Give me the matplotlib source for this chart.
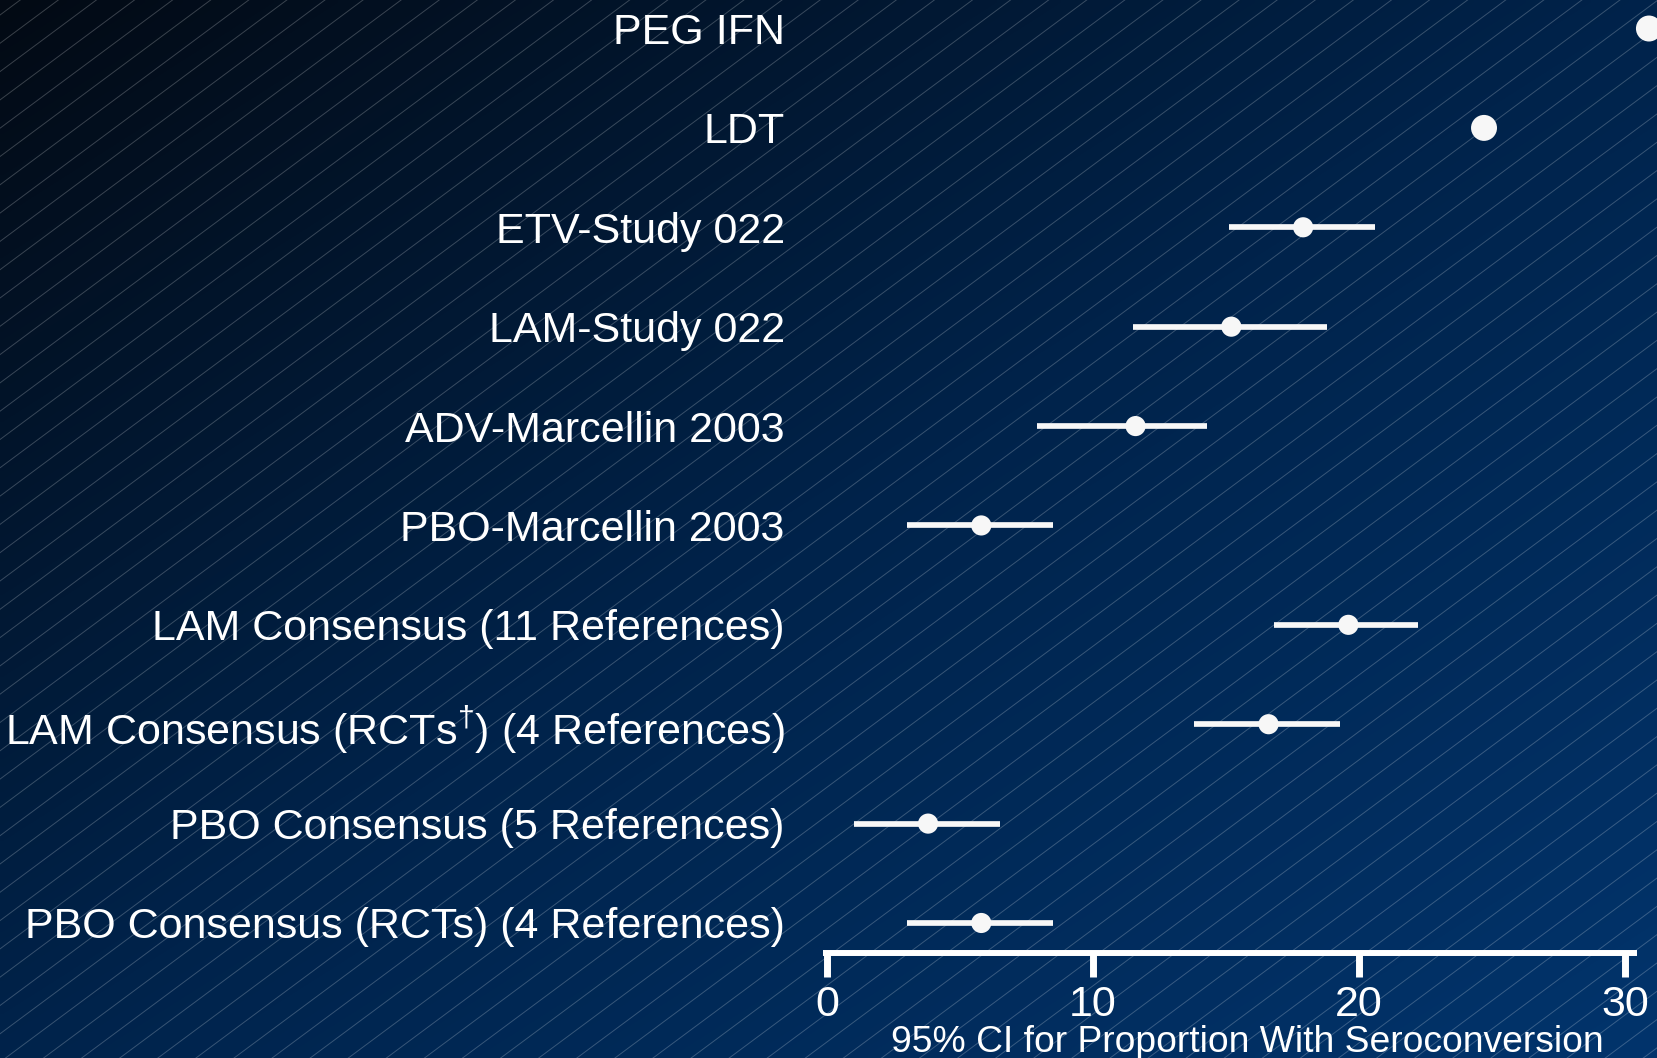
import numpy as np
import matplotlib
matplotlib.use("Agg")
import matplotlib.pyplot as plt
from matplotlib.colors import LinearSegmentedColormap

plt.rcParams["font.family"] = ["Liberation Sans", "DejaVu Sans"]
plt.rcParams["mathtext.fontset"] = "custom"
plt.rcParams["mathtext.rm"] = "Liberation Sans"

# studies listed top to bottom
studies = [
    "PEG IFN",
    "LDT",
    "ETV-Study 022",
    "LAM-Study 022",
    "ADV-Marcellin 2003",
    "PBO-Marcellin 2003",
    "LAM Consensus (11 References)",
    r"LAM Consensus (RCTs$^{\dagger}$) (4 References)",
    "PBO Consensus (5 References)",
    "PBO Consensus (RCTs) (4 References)",
]
estimate = [30.9, 24.7, 17.9, 15.2, 11.6, 5.8, 19.6, 16.6, 3.8, 5.8]
ci_low = [np.nan, np.nan, 15.1, 11.5, 7.9, 3.0, 16.8, 13.8, 1.0, 3.0]
ci_high = [np.nan, np.nan, 20.6, 18.8, 14.3, 8.5, 22.2, 19.3, 6.5, 8.5]
xticks = [0, 10, 20, 30]
xlabel = "95% CI for Proportion With Seroconversion"

W, H = 1658, 1058
fg = "#f7f7f7"

fig = plt.figure(figsize=(W / 100, H / 100), dpi=100)

# background: diagonal navy gradient with thin hatch lines
bg = fig.add_axes([0, 0, 1, 1])
bg.set_axis_off()
yy, xx = np.mgrid[0:1:200j, 0:1:300j]
shade = (xx + yy) / 2
navy = LinearSegmentedColormap.from_list("navy", ["#030a14", "#00234b", "#02346c"])
bg.imshow(shade, cmap=navy, extent=[0, W, 0, H], origin="upper",
          aspect="auto", interpolation="bilinear")
slope = 0.743
for c in np.arange(1014.7 - 28.3 * 85, H + 1, 28.3):
    bg.plot([0, W], [c, c + slope * W], color="white", alpha=0.22, lw=0.7)
bg.set_xlim(0, W)
bg.set_ylim(0, H)

ax = fig.add_axes([827 / W, 105 / H, 1 - 827 / W, 1 - 105 / H])
ax.patch.set_alpha(0)
ax.set_xlim(0, (W - 827) / 26.6)
ax.set_ylim(-0.302, 9.287)

rows = np.arange(len(studies))[::-1]
est = np.array(estimate)
lo = np.array(ci_low)
hi = np.array(ci_high)
has_ci = ~np.isnan(lo)

ax.hlines(rows[has_ci], lo[has_ci], hi[has_ci], color=fg, lw=4.1,
          capstyle="butt", zorder=2)
sizes = np.where(has_ci, 14.5, 18.7) ** 2
ax.scatter(est, rows, s=sizes, color=fg, edgecolors="none", zorder=3,
           clip_on=False)

for side in ["left", "top", "right"]:
    ax.spines[side].set_visible(False)
ax.spines["bottom"].set_color("white")
ax.spines["bottom"].set_linewidth(4.3)
ax.spines["bottom"].set_bounds(-0.15, 30.45)
ax.spines["bottom"].set_capstyle("butt")

ax.set_xticks(xticks)
ax.tick_params(axis="x", colors="white", width=5, length=17.3, pad=6,
               labelsize=31, direction="out")
ax.set_yticks(rows)
ax.set_yticklabels(studies)
ax.tick_params(axis="y", length=0, pad=30.5, labelsize=31, labelcolor="white")

fig.text(1247 / W, 6.5 / H, xlabel, ha="center", va="baseline",
         color="white", fontsize=26.8)

fig.savefig("out.png", dpi=100)
